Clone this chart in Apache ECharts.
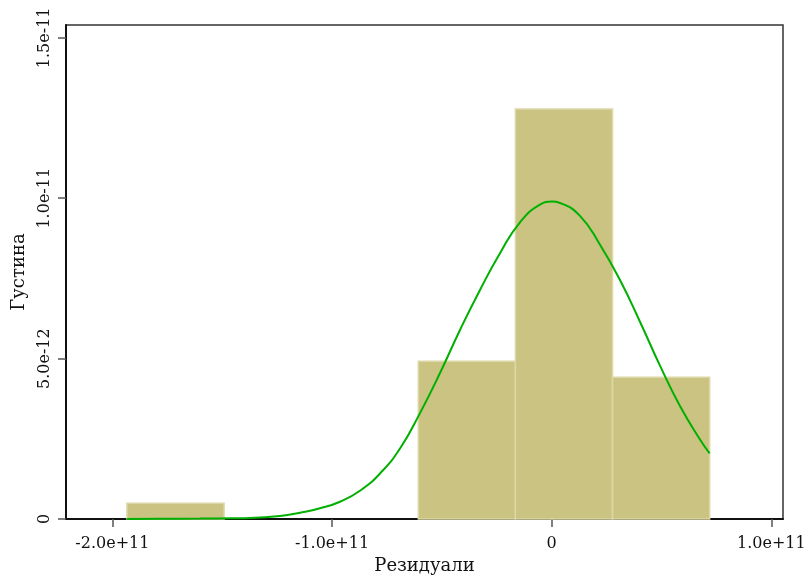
<!DOCTYPE html>
<html>
<head>
<meta charset="utf-8">
<script src="https://cdn.jsdelivr.net/npm/echarts@6/dist/echarts.min.js"></script>
<style>
  html, body { margin: 0; padding: 0; background: #fff; }
  #chart { width: 806px; height: 576px; }
</style>
</head>
<body>
<div id="chart"></div>
<script>
// histogram bins (residuals) and density heights
const binStart = [-1.9335e11, -0.6072e11, -0.1651e11, 0.2770e11];
const binEnd   = [-1.4914e11, -0.1651e11,  0.2770e11, 0.7191e11];
const density  = [4.92e-13, 4.92e-12, 1.278e-11, 4.42e-12];

// normal density curve (x in units of 1e11, y in units of 1e-11)
const curveX = [-1.9335, -1.7829, -1.6008, -1.4643, -1.3732, -1.2367, -1.1456, -1.0546,
  -0.9636, -0.8726, -0.7815, -0.6905, -0.5995, -0.5084, -0.4174, -0.3264, -0.2353,
  -0.1443, -0.0533, 0.0014, 0.0378, 0.1288, 0.2199, 0.3109, 0.4019, 0.4930, 0.5840, 0.6750, 0.7191];
const curveY = [0.0003, 0.0006, 0.0012, 0.0022, 0.0031, 0.0094, 0.0196, 0.0334,
  0.0539, 0.0880, 0.1420, 0.2200, 0.3300, 0.4550, 0.5893, 0.7141, 0.8285,
  0.9250, 0.9800, 0.9894, 0.9850, 0.9450, 0.8550, 0.7450, 0.6150, 0.4780, 0.3520, 0.2480, 0.2049];

const xTicks = [-2e11, -1e11, 0, 1e11];
const xTickLabels = ["-2.0e+11", "-1.0e+11", "0", "1.0e+11"];
const yTicks = [0, 5e-12, 1e-11, 1.5e-11];
const yTickLabels = ["0", "5.0e-12", "1.0e-11", "1.5e-11"];

const font = "DejaVu Serif";

function tickLabel(ticks, labels) {
  return v => {
    const i = ticks.findIndex(t => Math.abs(t - v) < Math.abs(ticks[1] - ticks[0]) * 1e-3);
    return i >= 0 ? labels[i] : "";
  };
}

const chart = echarts.init(document.getElementById("chart"));

chart.setOption({
  animation: false,
  backgroundColor: "#fff",
  grid: {
    left: 66, right: 23, top: 25, bottom: 57,
    outerBoundsMode: "none",
    containLabel: false,
    show: true, borderColor: "#333", borderWidth: 1.5
  },
  xAxis: {
    type: "value",
    min: -2.211e11,
    max: 1.053e11,
    splitLine: { show: false },
    axisLine: { show: true, onZero: false, lineStyle: { color: "#111", width: 2 } },
    axisTick: { show: true, customValues: xTicks, length: 8, lineStyle: { color: "#555", width: 1.5 } },
    axisLabel: {
      customValues: xTicks,
      formatter: tickLabel(xTicks, xTickLabels),
      color: "#111", fontFamily: font, fontSize: 16, margin: 17
    },
    name: "Резидуали",
    nameLocation: "middle",
    nameGap: 36,
    nameTextStyle: { color: "#111", fontFamily: font, fontSize: 18 }
  },
  yAxis: {
    type: "value",
    min: 0,
    max: 1.54e-11,
    splitLine: { show: false },
    axisLine: { show: true, onZero: false, lineStyle: { color: "#111", width: 2 } },
    axisTick: { show: true, customValues: yTicks, length: 8, lineStyle: { color: "#555", width: 1.5 } },
    axisLabel: {
      customValues: yTicks,
      formatter: tickLabel(yTicks, yTickLabels),
      rotate: 90,
      color: "#111", fontFamily: font, fontSize: 16, margin: 13
    },
    name: "Густина",
    nameLocation: "middle",
    nameGap: 38,
    nameTextStyle: { color: "#111", fontFamily: font, fontSize: 18 }
  },
  series: [
    {
      type: "custom",
      data: binStart.map((s, i) => [s, binEnd[i], density[i]]),
      encode: { x: [0, 1], y: 2 },
      renderItem: (params, api) => {
        const p0 = api.coord([api.value(0), api.value(2)]);
        const p1 = api.coord([api.value(1), 0]);
        return {
          type: "rect",
          shape: { x: p0[0], y: p0[1], width: p1[0] - p0[0], height: p1[1] - p0[1] },
          style: { fill: "#cbc382", stroke: "#dcd7a6", lineWidth: 1.5 }
        };
      },
      z: 2
    },
    {
      type: "line",
      data: curveX.map((x, i) => [x * 1e11, curveY[i] * 1e-11]),
      smooth: 0.5,
      showSymbol: false,
      lineStyle: { color: "#00b000", width: 2 },
      z: 3
    }
  ]
});
</script>
</body>
</html>
